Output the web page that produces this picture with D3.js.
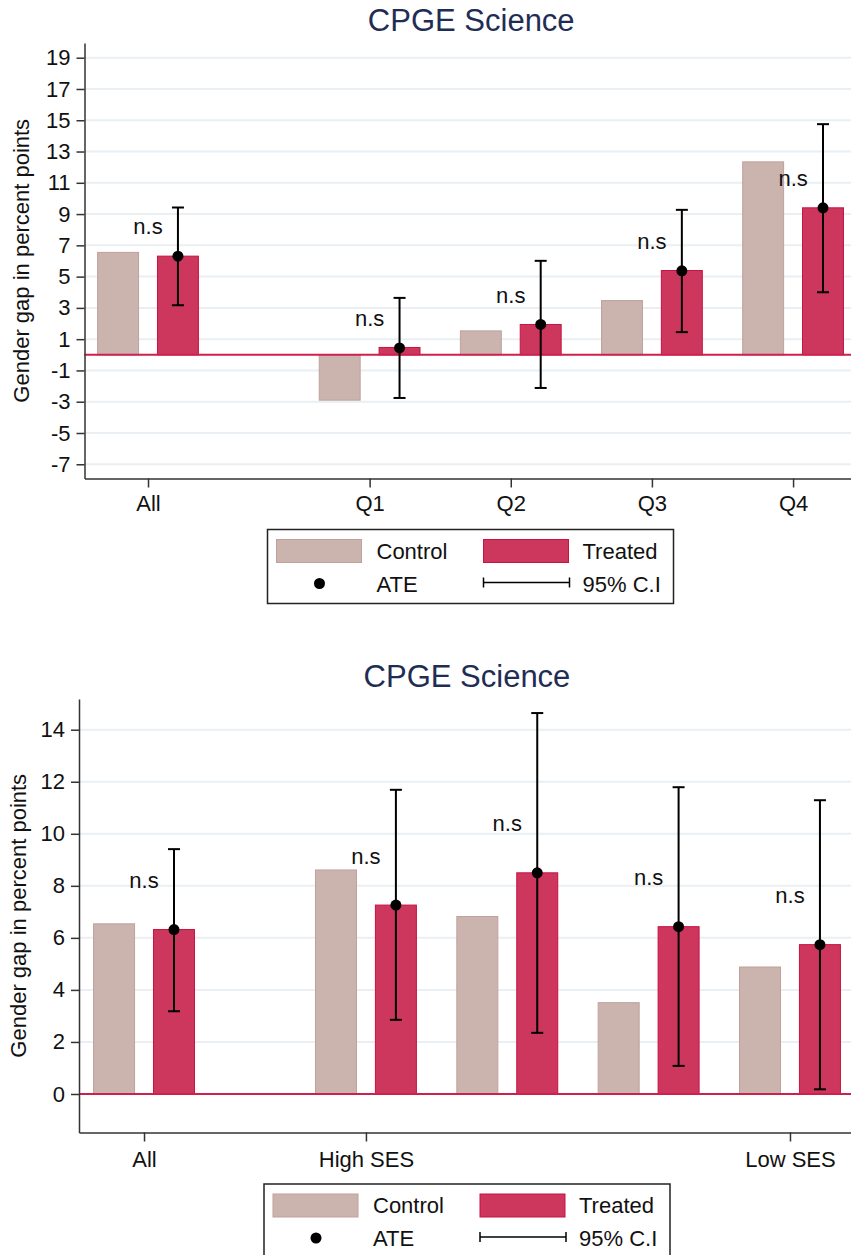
<!DOCTYPE html>
<html>
<head>
<meta charset="utf-8">
<script src="https://d3js.org/d3.v7.min.js"></script>
<style>
  body { margin: 0; background: #fff; }
  svg { display: block; font-family: "Liberation Sans", Arial, Helvetica, sans-serif; }
</style>
</head>
<body>
<script>
// ---- data: quartile panel ----
var quartCategories = ["All", "Q1", "Q2", "Q3", "Q4"];
var quartControl = [6.55, -2.9, 1.53, 3.47, 12.34];
var quartTreated = [6.31, 0.47, 1.94, 5.39, 9.4];
var quartAte = [6.31, 0.44, 1.94, 5.37, 9.4];
var quartCiLow = [3.17, -2.76, -2.12, 1.45, 4.0];
var quartCiHigh = [9.42, 3.64, 6.01, 9.27, 14.75];
var quartSig = ["n.s", "n.s", "n.s", "n.s", "n.s"];
var quartYTicks = [19, 17, 15, 13, 11, 9, 7, 5, 3, 1, -1, -3, -5, -7];

// ---- data: SES panel ----
var sesCategories = ["All", "High SES", "", "", "Low SES"];
var sesControl = [6.54, 8.61, 6.82, 3.51, 4.88];
var sesTreated = [6.32, 7.26, 8.5, 6.43, 5.74];
var sesAte = [6.32, 7.26, 8.5, 6.43, 5.74];
var sesCiLow = [3.18, 2.85, 2.35, 1.08, 0.18];
var sesCiHigh = [9.41, 11.69, 14.64, 11.79, 11.29];
var sesSig = ["n.s", "n.s", "n.s", "n.s", "n.s"];
var sesYTicks = [0, 2, 4, 6, 8, 10, 12, 14];

// layout: "All" sits apart from the other groups
var groupSlots = [0, 1.57, 2.57, 3.57, 4.57];

var controlFill = "#cbb3ae", controlStroke = "#bfa19c";
var treatedFill = "#cd375d", treatedStroke = "#c8123f";
var zeroColor = "#cf1f4c";
var gridColor = "#e9eff3";
var titleColor = "#1f2d55";

var svg = d3.select("body")
  .append("svg")
  .attr("width", 851)
  .attr("height", 1255);

function drawPanel(opt) {
  var g = svg.append("g");

  var x = d3.scaleLinear()
    .domain(opt.xDomain)
    .range([opt.left, opt.right]);
  var y = d3.scaleLinear()
    .domain(opt.yDomain)
    .range([opt.bottom, opt.top]);

  // gridlines
  g.selectAll(".grid")
    .data(opt.yTicks)
    .enter()
    .append("line")
    .attr("x1", opt.left)
    .attr("x2", opt.right)
    .attr("y1", d => y(d))
    .attr("y2", d => y(d))
    .attr("stroke", gridColor)
    .attr("stroke-width", 2);

  var rows = opt.cats.map(function(c, i) {
    return {
      cat: c, slot: groupSlots[i], control: opt.control[i], treated: opt.treated[i],
      ate: opt.ate[i], lo: opt.ciLow[i], hi: opt.ciHigh[i], sig: opt.sig[i]
    };
  });

  var barW = x(0.29) - x(0);
  var off = x(0.212) - x(0);

  // control bars
  g.selectAll(".ctrl")
    .data(rows)
    .enter()
    .append("rect")
    .attr("x", d => x(d.slot) - off - barW / 2)
    .attr("width", barW)
    .attr("y", d => y(Math.max(0, d.control)))
    .attr("height", d => Math.abs(y(d.control) - y(0)))
    .attr("fill", controlFill)
    .attr("stroke", controlStroke)
    .attr("stroke-width", 1);

  // treated bars
  g.selectAll(".treat")
    .data(rows)
    .enter()
    .append("rect")
    .attr("x", d => x(d.slot) + off - barW / 2)
    .attr("width", barW)
    .attr("y", d => y(Math.max(0, d.treated)))
    .attr("height", d => Math.abs(y(d.treated) - y(0)))
    .attr("fill", treatedFill)
    .attr("stroke", treatedStroke)
    .attr("stroke-width", 1);

  // zero line
  g.append("line")
    .attr("x1", opt.left)
    .attr("x2", opt.right)
    .attr("y1", y(0))
    .attr("y2", y(0))
    .attr("stroke", zeroColor)
    .attr("stroke-width", 2);

  // confidence intervals
  var ci = g.selectAll(".ci")
    .data(rows)
    .enter()
    .append("g")
    .attr("stroke", "#000")
    .attr("stroke-width", 2);
  ci.append("line")
    .attr("x1", d => x(d.slot) + off)
    .attr("x2", d => x(d.slot) + off)
    .attr("y1", d => y(d.lo))
    .attr("y2", d => y(d.hi));
  ci.append("line")
    .attr("x1", d => x(d.slot) + off - 6)
    .attr("x2", d => x(d.slot) + off + 6)
    .attr("y1", d => y(d.lo))
    .attr("y2", d => y(d.lo));
  ci.append("line")
    .attr("x1", d => x(d.slot) + off - 6)
    .attr("x2", d => x(d.slot) + off + 6)
    .attr("y1", d => y(d.hi))
    .attr("y2", d => y(d.hi));

  // ATE points
  g.selectAll(".ate")
    .data(rows)
    .enter()
    .append("circle")
    .attr("cx", d => x(d.slot) + off)
    .attr("cy", d => y(d.ate))
    .attr("r", 5.5)
    .attr("fill", "#000");

  // significance labels
  g.selectAll(".sig")
    .data(rows)
    .enter()
    .append("text")
    .attr("x", d => x(d.slot))
    .attr("y", d => y(d.ate + 1.9) + 8)
    .attr("text-anchor", "middle")
    .attr("font-size", 22)
    .attr("fill", "#111")
    .text(d => d.sig);

  // axes
  var leftAxis = d3.axisLeft(y)
    .tickValues(opt.yTicks)
    .tickFormat(d => String(d))
    .tickSize(8)
    .tickSizeOuter(0)
    .tickPadding(6);
  var yAxisG = g.append("g")
    .attr("transform", `translate(${opt.left}, 0)`)
    .call(leftAxis);

  var labelled = rows.filter(d => d.cat !== "");
  var bottomAxis = d3.axisBottom(x)
    .tickValues(labelled.map(d => d.slot))
    .tickFormat((d, i) => labelled[i].cat)
    .tickSize(9)
    .tickSizeOuter(0)
    .tickPadding(opt.xPad);
  var xAxisG = g.append("g")
    .attr("transform", `translate(0, ${opt.bottom})`)
    .call(bottomAxis);

  [yAxisG, xAxisG].forEach(function(a) {
    a.attr("font-family", null).attr("font-size", 22);
    a.select(".domain").attr("stroke", "#333").attr("stroke-width", 1.5);
    a.selectAll(".tick line").attr("stroke", "#333").attr("stroke-width", 1.5);
    a.selectAll(".tick text").attr("fill", "#111");
  });

  // y axis title
  g.append("text")
    .attr("transform", `translate(${opt.yTitleX}, ${(opt.top + opt.bottom) / 2}) rotate(-90)`)
    .attr("text-anchor", "middle")
    .attr("font-size", 22)
    .attr("fill", "#111")
    .text("Gender gap in percent points");

  // chart title
  g.append("text")
    .attr("x", (opt.left + opt.right) / 2)
    .attr("y", opt.titleY)
    .attr("text-anchor", "middle")
    .attr("font-size", 31)
    .attr("fill", titleColor)
    .text("CPGE Science");

  // legend
  var lg = g.append("g")
    .attr("transform", `translate(${opt.legendX}, ${opt.legendY})`);
  lg.append("rect")
    .attr("width", 406)
    .attr("height", 74)
    .attr("fill", "#fff")
    .attr("stroke", "#222")
    .attr("stroke-width", 1.5);
  lg.append("rect")
    .attr("x", 9).attr("y", 10).attr("width", 85).attr("height", 23)
    .attr("fill", controlFill).attr("stroke", controlStroke);
  lg.append("rect")
    .attr("x", 216).attr("y", 10).attr("width", 85).attr("height", 23)
    .attr("fill", treatedFill).attr("stroke", treatedStroke);
  lg.append("circle")
    .attr("cx", 52).attr("cy", 54).attr("r", 5.5).attr("fill", "#000");
  var ciKey = lg.append("g").attr("stroke", "#000").attr("stroke-width", 1.5);
  ciKey.append("line").attr("x1", 216).attr("x2", 302).attr("y1", 53).attr("y2", 53);
  ciKey.append("line").attr("x1", 216).attr("x2", 216).attr("y1", 48).attr("y2", 58);
  ciKey.append("line").attr("x1", 302).attr("x2", 302).attr("y1", 48).attr("y2", 58);
  var legendText = [
    { t: "Control", x: 109, y: 29 },
    { t: "Treated", x: 315, y: 29 },
    { t: "ATE", x: 109, y: 62 },
    { t: "95% C.I", x: 315, y: 62 }
  ];
  lg.selectAll(".lt")
    .data(legendText)
    .enter()
    .append("text")
    .attr("x", d => d.x)
    .attr("y", d => d.y)
    .attr("font-size", 22)
    .attr("fill", "#111")
    .text(d => d.t);
}

drawPanel({
  cats: quartCategories, control: quartControl, treated: quartTreated, ate: quartAte,
  ciLow: quartCiLow, ciHigh: quartCiHigh, sig: quartSig, yTicks: quartYTicks,
  xDomain: [-0.45, 5.03], yDomain: [-7.91, 19.94],
  left: 84.5, right: 858, top: 43, bottom: 478.5,
  xPad: 8, yTitleX: 29, titleY: 31, legendX: 267.5, legendY: 529.5
});

drawPanel({
  cats: sesCategories, control: sesControl, treated: sesTreated, ate: sesAte,
  ciLow: sesCiLow, ciHigh: sesCiHigh, sig: sesSig, yTicks: sesYTicks,
  xDomain: [-0.46, 5.03], yDomain: [-1.48, 15.18],
  left: 79, right: 855, top: 699, bottom: 1132.5,
  xPad: 10, yTitleX: 26, titleY: 687, legendX: 264, legendY: 1184
});
</script>
</body>
</html>
